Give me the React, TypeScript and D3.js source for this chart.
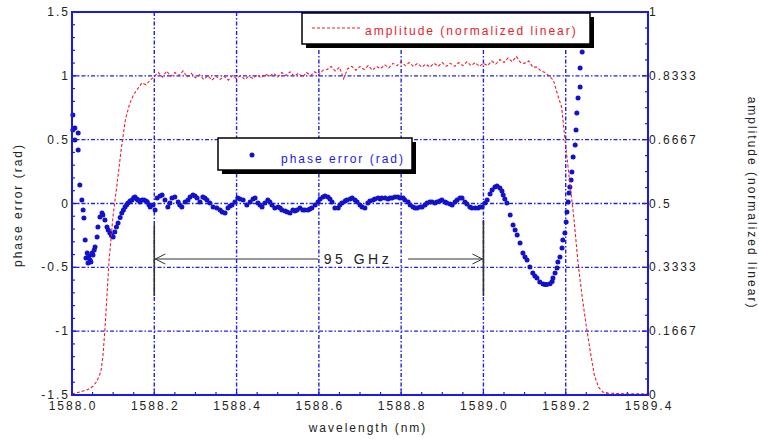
import React from "react";
import * as d3 from "d3";

const xTicks = [1588.0, 1588.2, 1588.4, 1588.6, 1588.8, 1589.0, 1589.2, 1589.4];
const xTickLabels = ["1588.0", "1588.2", "1588.4", "1588.6", "1588.8", "1589.0", "1589.2", "1589.4"];
const yLeftTicks = [-1.5, -1, -0.5, 0, 0.5, 1, 1.5];
const yLeftTickLabels = ["-1.5", "-1", "-0.5", "0", "0.5", "1", "1.5"];
const yRightTicks = [0, 0.16667, 0.33333, 0.5, 0.66667, 0.83333, 1];
const yRightTickLabels = ["0", "0.1667", "0.3333", "0.5", "0.6667", "0.8333", "1"];

const ampWavelength = [
  1588.0, 1588.02, 1588.04, 1588.05, 1588.06, 1588.07, 1588.075, 1588.08, 1588.09, 1588.1,
  1588.11, 1588.12, 1588.13, 1588.14, 1588.15, 1588.16, 1588.17, 1588.18, 1588.19, 1588.2,
  1588.21, 1588.22, 1588.23, 1588.24, 1588.25, 1588.26, 1588.27, 1588.28, 1588.29, 1588.3,
  1588.31, 1588.32, 1588.33, 1588.34, 1588.35, 1588.36, 1588.37, 1588.38, 1588.39, 1588.4,
  1588.41, 1588.42, 1588.43, 1588.44, 1588.45, 1588.46, 1588.47, 1588.48, 1588.49, 1588.5,
  1588.51, 1588.52, 1588.53, 1588.54, 1588.55, 1588.56, 1588.57, 1588.58, 1588.59, 1588.6,
  1588.61, 1588.62, 1588.63, 1588.64, 1588.65, 1588.66, 1588.67, 1588.68, 1588.69, 1588.7,
  1588.71, 1588.72, 1588.73, 1588.74, 1588.75, 1588.76, 1588.77, 1588.78, 1588.79, 1588.8,
  1588.81, 1588.82, 1588.83, 1588.84, 1588.85, 1588.86, 1588.87, 1588.88, 1588.89, 1588.9,
  1588.91, 1588.92, 1588.93, 1588.94, 1588.95, 1588.96, 1588.97, 1588.98, 1588.99, 1589.0,
  1589.01, 1589.02, 1589.03, 1589.04, 1589.05, 1589.06, 1589.07, 1589.08, 1589.09, 1589.1,
  1589.11, 1589.12, 1589.13, 1589.14, 1589.15, 1589.16, 1589.17, 1589.18, 1589.19, 1589.2,
  1589.21, 1589.22, 1589.23, 1589.24, 1589.25, 1589.26, 1589.27, 1589.28, 1589.29, 1589.3,
  1589.32, 1589.35, 1589.4,
];
const ampValue = [
  0.003, 0.008, 0.015, 0.022, 0.035, 0.06, 0.1, 0.17, 0.35, 0.47,
  0.555, 0.645, 0.72, 0.76, 0.785, 0.8, 0.815, 0.81, 0.822, 0.832,
  0.842, 0.83, 0.846, 0.832, 0.842, 0.834, 0.846, 0.83, 0.84, 0.828,
  0.836, 0.824, 0.834, 0.822, 0.832, 0.824, 0.832, 0.822, 0.834, 0.826,
  0.834, 0.824, 0.832, 0.826, 0.836, 0.828, 0.838, 0.832, 0.84, 0.83,
  0.842, 0.834, 0.844, 0.832, 0.84, 0.83, 0.842, 0.834, 0.844, 0.836,
  0.848, 0.85, 0.858, 0.846, 0.856, 0.826, 0.852, 0.858, 0.848, 0.858,
  0.85, 0.86, 0.848, 0.858, 0.852, 0.862, 0.854, 0.866, 0.86, 0.87,
  0.86, 0.868, 0.858, 0.866, 0.856, 0.864, 0.856, 0.866, 0.858, 0.868,
  0.858, 0.866, 0.858, 0.868, 0.86, 0.87, 0.86, 0.868, 0.858, 0.866,
  0.86, 0.872, 0.864, 0.876, 0.868, 0.88, 0.87, 0.884, 0.868, 0.866,
  0.872, 0.856, 0.856, 0.846, 0.842, 0.832, 0.822, 0.785, 0.752, 0.65,
  0.554, 0.46, 0.345, 0.256, 0.18, 0.112, 0.05, 0.02, 0.008, 0.005,
  0.004, 0.003, 0.003,
];

const phaseWavelength = [
  1588.002, 1588.002, 1588.007, 1588.007, 1588.015, 1588.015, 1588.019, 1588.024, 1588.027, 1588.029,
  1588.032, 1588.034, 1588.037, 1588.039, 1588.041, 1588.044, 1588.046, 1588.049, 1588.051, 1588.054,
  1588.056, 1588.061, 1588.063, 1588.068, 1588.073, 1588.075, 1588.08, 1588.085, 1588.088, 1588.092,
  1588.096, 1588.1, 1588.104, 1588.108, 1588.112, 1588.117, 1588.121, 1588.125, 1588.129, 1588.133,
  1588.136, 1588.141, 1588.146, 1588.15, 1588.153, 1588.158, 1588.16, 1588.165, 1588.17, 1588.175,
  1588.18, 1588.183, 1588.187, 1588.19, 1588.197, 1588.202, 1588.207, 1588.214, 1588.219, 1588.226,
  1588.233, 1588.238, 1588.243, 1588.25, 1588.258, 1588.262, 1588.267, 1588.275, 1588.282, 1588.287,
  1588.294, 1588.299, 1588.304, 1588.311, 1588.318, 1588.323, 1588.328, 1588.335, 1588.343, 1588.352,
  1588.36, 1588.365, 1588.372, 1588.379, 1588.384, 1588.389, 1588.396, 1588.403, 1588.408, 1588.416,
  1588.425, 1588.433, 1588.44, 1588.445, 1588.452, 1588.457, 1588.462, 1588.469, 1588.476, 1588.481,
  1588.486, 1588.493, 1588.501, 1588.506, 1588.51, 1588.518, 1588.523, 1588.53, 1588.537, 1588.542,
  1588.547, 1588.554, 1588.561, 1588.566, 1588.574, 1588.578, 1588.583, 1588.591, 1588.598, 1588.603,
  1588.61, 1588.615, 1588.622, 1588.627, 1588.632, 1588.639, 1588.647, 1588.651, 1588.656, 1588.664,
  1588.668, 1588.676, 1588.681, 1588.688, 1588.693, 1588.7, 1588.705, 1588.712, 1588.719, 1588.724,
  1588.732, 1588.736, 1588.744, 1588.749, 1588.753, 1588.761, 1588.768, 1588.773, 1588.778, 1588.785,
  1588.792, 1588.797, 1588.805, 1588.809, 1588.817, 1588.822, 1588.829, 1588.834, 1588.839, 1588.846,
  1588.851, 1588.858, 1588.863, 1588.87, 1588.875, 1588.882, 1588.887, 1588.894, 1588.899, 1588.907,
  1588.911, 1588.919, 1588.924, 1588.931, 1588.936, 1588.943, 1588.948, 1588.955, 1588.96, 1588.967,
  1588.972, 1588.98, 1588.987, 1588.992, 1588.997, 1589.004, 1589.009, 1589.016, 1589.021, 1589.028,
  1589.033, 1589.04, 1589.045, 1589.048, 1589.052, 1589.057, 1589.065, 1589.072, 1589.077, 1589.082,
  1589.089, 1589.096, 1589.101, 1589.106, 1589.113, 1589.12, 1589.125, 1589.13, 1589.137, 1589.145,
  1589.15, 1589.154, 1589.162, 1589.167, 1589.169, 1589.174, 1589.179, 1589.181, 1589.186, 1589.191,
  1589.193, 1589.198, 1589.201, 1589.203, 1589.206, 1589.208, 1589.21, 1589.213, 1589.215, 1589.218,
  1589.223, 1589.225, 1589.227, 1589.23, 1589.235, 1589.235, 1589.24,
];
const phaseValue = [
  0.693, 0.576, 0.497, 0.591, 0.552, 0.419, 0.145, 0.027, -0.051, -0.113,
  -0.286, -0.427, -0.388, -0.466, -0.411, -0.443, -0.458, -0.388, -0.403, -0.364,
  -0.341, -0.262, -0.184, -0.106, -0.074, -0.09, -0.129, -0.184, -0.208, -0.231,
  -0.25, -0.262, -0.223, -0.185, -0.153, -0.11, -0.074, -0.05, -0.027, -0.01,
  0.004, 0.02, 0.027, 0.045, 0.051, 0.035, 0.027, 0.012, 0.027, 0.027,
  0.02, 0.012, -0.01, -0.027, -0.012, -0.051, 0.043, 0.059, 0.067, 0.027,
  -0.027, 0.004, 0.043, 0.051, 0.012, -0.012, -0.027, 0.012, 0.027, 0.051,
  0.067, 0.059, 0.043, 0.012, 0.051, 0.043, 0.027, 0.004, -0.027, -0.035,
  -0.051, -0.066, -0.074, -0.035, -0.02, -0.012, 0.012, 0.043, 0.035, 0.027,
  -0.012, 0.012, 0.035, 0.043, 0.004, -0.012, -0.027, 0.004, 0.027, 0.012,
  -0.012, -0.035, -0.027, -0.035, -0.051, -0.059, -0.066, -0.074, -0.051, -0.059,
  -0.051, -0.035, -0.051, -0.051, -0.051, -0.043, -0.035, -0.012, 0.012, 0.035,
  0.051, 0.059, 0.051, 0.035, 0.012, -0.035, -0.035, -0.012, 0.004, 0.02,
  0.027, 0.035, 0.043, 0.027, 0.012, -0.012, -0.027, -0.035, 0.004, 0.02,
  0.027, 0.035, 0.043, 0.035, 0.043, 0.043, 0.035, 0.043, 0.043, 0.051,
  0.051, 0.043, 0.043, 0.027, 0.012, -0.012, -0.027, -0.035, -0.035, -0.027,
  -0.027, -0.012, 0.004, 0.012, 0.012, 0.004, 0.012, 0.02, 0.027, 0.012,
  0.004, -0.004, -0.012, 0.012, 0.027, 0.043, 0.043, 0.012, -0.004, -0.027,
  -0.035, -0.035, -0.035, -0.027, -0.027, 0.004, 0.027, 0.075, 0.106, 0.129,
  0.137, 0.121, 0.098, 0.067, 0.035, 0.004, -0.09, -0.168, -0.208, -0.247,
  -0.309, -0.388, -0.419, -0.443, -0.497, -0.544, -0.568, -0.584, -0.615, -0.631,
  -0.635, -0.635, -0.628, -0.61, -0.584, -0.544, -0.505, -0.458, -0.419, -0.348,
  -0.286, -0.231, -0.145, -0.066, 0.012, 0.082, 0.129, 0.184, 0.247, 0.364,
  0.458, 0.576, 0.709, 0.826, 0.913, 1.061, 1.187,
];

const W = 759;
const H = 439;
const LEFT = 72;
const RIGHT = 648;
const TOP = 12;
const BOTTOM = 395;

const BLUE = "#1a1ae6";
const GRID = "#2020ee";
const RED = "#e8202a";
const DOT = "#1212cc";
const FONT = "'Liberation Sans', Arial, Helvetica, sans-serif";

export default function App() {
  const x = d3.scaleLinear().domain([1588.0, 1589.4]).range([LEFT, RIGHT]);
  const yL = d3.scaleLinear().domain([-1.5, 1.5]).range([BOTTOM, TOP]);
  const yR = d3.scaleLinear().domain([0, 1]).range([BOTTOM, TOP]);

  const xMinor = d3.range(1588.0, 1589.4001, 0.05);
  const yLMinor = d3.range(-1.5, 1.5001, 0.1);
  const yRMinor = d3.range(0, 1.0001, 1 / 24);

  const ampPts: [number, number][] = ampWavelength.map((w, i) => [w, ampValue[i]]);
  const ampLine = d3
    .line<[number, number]>()
    .x((d) => x(d[0]))
    .y((d) => yR(d[1]))(ampPts);

  const phasePts = phaseWavelength.map((w, i) => ({ w, v: phaseValue[i] }));

  const textStyle: React.CSSProperties = { fontFamily: FONT, fontSize: 12, letterSpacing: 2 };

  const annY = 259;
  const xA = x(1588.2);
  const xB = x(1589.0);

  return (
    <svg
      width={W}
      height={H}
      style={{ position: "absolute", left: 0, top: 0, background: "#fff" }}
    >
      <rect x={0} y={0} width={W} height={H} fill="#fff" />
      {/* grid */}
      <g stroke={GRID} strokeWidth={1.4} strokeDasharray="4 2 1.5 2" fill="none">
        {xTicks.slice(1, -1).map((t) => (
          <line key={"gx" + t} x1={x(t)} x2={x(t)} y1={TOP} y2={BOTTOM} />
        ))}
        {yLeftTicks.slice(1, -1).map((t) => (
          <line key={"gy" + t} x1={LEFT} x2={RIGHT} y1={yL(t)} y2={yL(t)} />
        ))}
      </g>
      {/* minor ticks */}
      <g stroke={BLUE} strokeWidth={1.2}>
        {xMinor.map((t, i) => (
          <line key={"xm" + i} x1={x(t)} x2={x(t)} y1={BOTTOM} y2={BOTTOM - (i % 4 === 0 ? 6 : 3)} />
        ))}
        {yLMinor.map((t, i) => (
          <line key={"ylm" + i} x1={LEFT} x2={LEFT + (i % 5 === 0 ? 6 : 3)} y1={yL(t)} y2={yL(t)} />
        ))}
        {yRMinor.map((t, i) => (
          <line key={"yrm" + i} x1={RIGHT} x2={RIGHT - (i % 4 === 0 ? 6 : 3)} y1={yR(t)} y2={yR(t)} />
        ))}
      </g>
      {/* phase dots */}
      <g fill={DOT}>
        {phasePts.map((p, i) => (
          <circle key={"p" + i} cx={x(p.w)} cy={yL(p.v)} r={2.5} />
        ))}
      </g>
      {/* amplitude line */}
      <path d={ampLine || ""} fill="none" stroke={RED} strokeWidth={1.1} strokeDasharray="3 2" />
      {/* frame */}
      <rect x={LEFT} y={TOP} width={RIGHT - LEFT} height={BOTTOM - TOP} fill="none" stroke={BLUE} strokeWidth={2} />

      {/* tick labels */}
      <g style={textStyle} fill="#222">
        {xTicks.map((t, i) => (
          <text key={"xl" + t} x={x(t) + 1} y={410} textAnchor="middle">
            {xTickLabels[i]}
          </text>
        ))}
        {yLeftTicks.map((t, i) => (
          <text key={"yl" + t} x={LEFT - 2} y={yL(t) + 4} textAnchor="end">
            {yLeftTickLabels[i]}
          </text>
        ))}
        {yRightTicks.map((t, i) => (
          <text key={"yr" + t} x={RIGHT + 1} y={yR(t) + 4} textAnchor="start">
            {yRightTickLabels[i]}
          </text>
        ))}
      </g>
      {/* axis titles */}
      <g style={textStyle} fill="#222">
        <text x={368} y={432} textAnchor="middle">
          wavelength (nm)
        </text>
        <text transform={`translate(22, ${205}) rotate(-90)`} textAnchor="middle">
          phase error (rad)
        </text>
        <text transform={`translate(748, ${203}) rotate(90)`} textAnchor="middle">
          amplitude (normalized linear)
        </text>
      </g>

      {/* annotation */}
      <g stroke="#333" fill="none">
        <line x1={xA} x2={xA} y1={225} y2={296} strokeWidth={1.6} />
        <line x1={xB} x2={xB} y1={220} y2={296} strokeWidth={1.6} />
        <line x1={xA} x2={318} y1={annY} y2={annY} strokeWidth={1} />
        <line x1={408} x2={xB} y1={annY} y2={annY} strokeWidth={1} />
        <polyline points={`${xA + 11},${annY - 5} ${xA + 1},${annY} ${xA + 11},${annY + 5}`} strokeWidth={1} />
        <polyline points={`${xB - 11},${annY - 5} ${xB - 1},${annY} ${xB - 11},${annY + 5}`} strokeWidth={1} />
      </g>
      <text x={358} y={264} textAnchor="middle" fill="#222" style={{ fontFamily: FONT, fontSize: 14, letterSpacing: 3.5 }}>
        95 GHz
      </text>

      {/* legend: amplitude */}
      <rect x={306} y={17} width={288} height={31} fill="#000" />
      <rect x={302} y={13} width={288} height={31} fill="#fff" stroke="#000" strokeWidth={1.5} />
      <line x1={312} x2={360} y1={28} y2={28} stroke={RED} strokeWidth={1.1} strokeDasharray="3 2" />
      <text x={365} y={35} fill={RED} style={textStyle}>
        amplitude (normalized linear)
      </text>

      {/* legend: phase */}
      <rect x={222} y={142} width={194} height={32} fill="#000" />
      <rect x={218} y={138} width={194} height={32} fill="#fff" stroke="#000" strokeWidth={1.5} />
      <circle cx={252} cy={155} r={2.5} fill={DOT} />
      <text x={281} y={163} fill={BLUE} style={textStyle}>
        phase error (rad)
      </text>
    </svg>
  );
}
